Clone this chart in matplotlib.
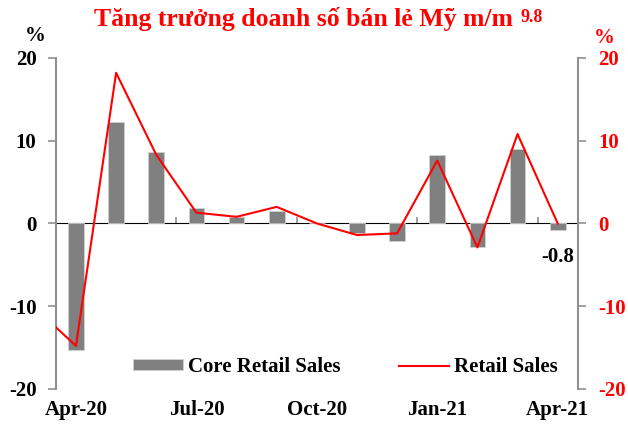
import matplotlib.pyplot as plt
import numpy as np

months = ['Apr-20', 'May-20', 'Jun-20', 'Jul-20', 'Aug-20', 'Sep-20', 'Oct-20',
          'Nov-20', 'Dec-20', 'Jan-21', 'Feb-21', 'Mar-21', 'Apr-21']
core_sales = [-15.3, 12.2, 8.6, 1.9, 0.8, 1.5, 0.0, -1.2, -2.1, 8.3, -2.8, 9.0, -0.8]
# line starts one month earlier (Mar-20), clipped at the left edge
retail_months = ['Mar-20'] + months
retail_sales = [-10.3, -14.8, 18.2, 8.3, 1.3, 0.8, 2.0, 0.0, -1.4, -1.2, 7.6, -2.9, 10.8, 0.0]
xlabels = ['Apr-20', 'Jul-20', 'Oct-20', 'Jan-21', 'Apr-21']

plt.rcParams['font.family'] = ['Liberation Serif', 'DejaVu Serif']
plt.rcParams['font.weight'] = 'bold'
plt.rcParams['axes.unicode_minus'] = False

fig = plt.figure(figsize=(6.28, 4.26), dpi=100)
ax = fig.add_axes([0.089, 0.087, 0.831, 0.777])

x = np.arange(len(months))
xr = np.arange(len(retail_months)) - 1
ax.bar(x, core_sales, width=0.39, color='#808080', edgecolor='#d0d0d0', linewidth=0.6,
       label='Core Retail Sales', zorder=2)
ax2 = ax.twinx()
ax2.plot(xr, retail_sales, color='red', lw=1.5, label='Retail Sales', zorder=3)

for a in (ax, ax2):
    a.set_ylim(-20, 20)
    a.set_xlim(-0.5, len(months) - 0.5)
    a.set_yticks([-20, -10, 0, 10, 20])
    for s in a.spines.values():
        s.set_visible(False)

ax.spines['left'].set_visible(True)
ax.spines['left'].set_color('#909090')
ax.spines['left'].set_linewidth(1.5)
ax2.spines['right'].set_visible(True)
ax2.spines['right'].set_color('#909090')
ax2.spines['right'].set_linewidth(1.5)

ax.tick_params(axis='y', colors='#909090', labelcolor='black', labelsize=15,
               length=6, width=1.2, pad=8)
ax2.tick_params(axis='y', colors='#909090', labelcolor='red', labelsize=15,
                length=6, width=1.2, pad=9)
for lbl in ax.get_yticklabels() + ax2.get_yticklabels():
    lbl.set_fontweight('bold')

# x labels at bottom, tick marks on the zero line between quarters
idx = [months.index(m) for m in xlabels]
ax.set_xticks(idx)
ax.set_xticklabels(xlabels, fontsize=15, fontweight='bold')
ax.tick_params(axis='x', length=0, pad=8)
ax2.tick_params(axis='x', length=0)

zx = ax.secondary_xaxis(0.5)
zx.set_xticks([2.5, 5.5, 8.5, 11.5])
zx.set_xticklabels([])
zx.tick_params(axis='x', direction='out', length=4, width=1.2, colors='#909090')
zx.spines['bottom'].set_color('#909090')
zx.spines['bottom'].set_linewidth(1.5)

ax.text(len(months) - 1, core_sales[-1] - 3.2, '%.1f' % core_sales[-1], ha='center', va='center',
        fontsize=15, fontweight='bold', color='black')

fig.text(0.056, 0.915, '%', fontsize=15, fontweight='bold', ha='center', va='center')
fig.text(0.962, 0.91, '%', fontsize=15, fontweight='bold', ha='center', va='center', color='red')
fig.text(0.483, 0.955, 'Tăng trưởng doanh số bán lẻ Mỹ m/m', fontsize=18.5, fontweight='bold',
         ha='center', va='center', color='red')
fig.text(0.847, 0.958, '9.8', fontsize=13, fontweight='bold', ha='center', va='center', color='red')

h1, l1 = ax.get_legend_handles_labels()
h2, l2 = ax2.get_legend_handles_labels()
ax2.legend(h1 + h2, l1 + l2, loc='center', bbox_to_anchor=(0.554, 0.066), ncol=2,
           frameon=False, prop={'size': 15, 'weight': 'bold'}, handlelength=2.4,
           handleheight=0.45, columnspacing=2.8, handletextpad=0.25)

fig.savefig('out.png', dpi=100)
